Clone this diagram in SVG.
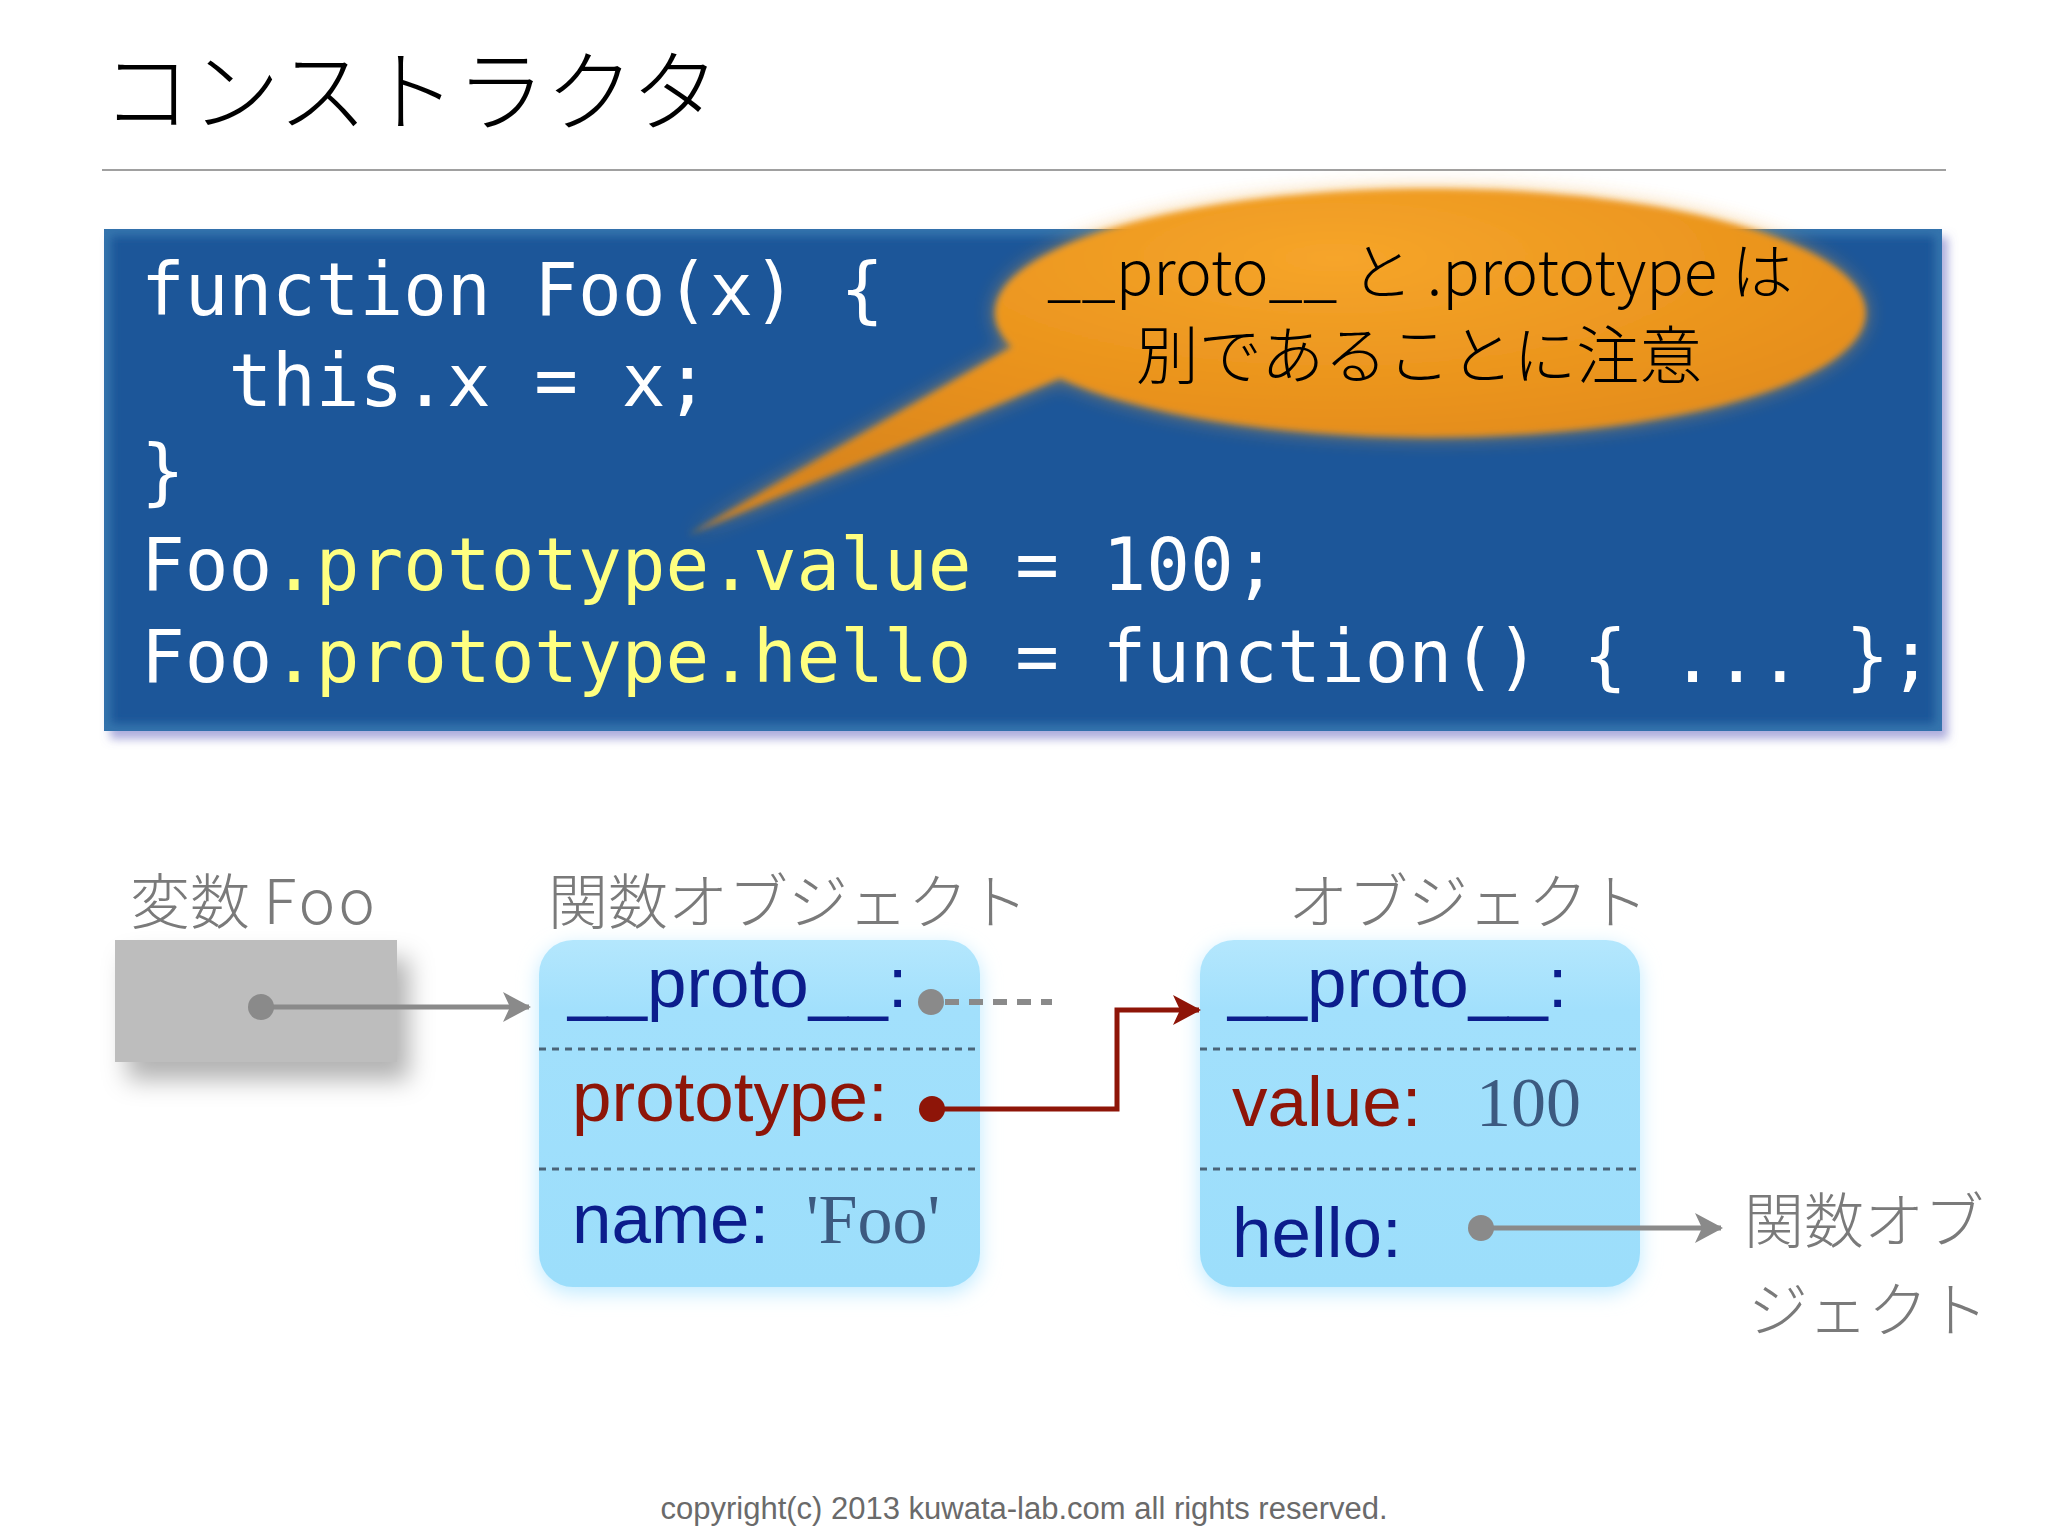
<svg xmlns="http://www.w3.org/2000/svg" width="2048" height="1536" viewBox="0 0 2048 1536">
<style>
.jp{font-family:"Noto Sans CJK JP","Noto Sans",sans-serif;font-weight:300}
.lbl{font-size:60px;fill:#7a7a7a}
.code{font-family:"DejaVu Sans Mono","Liberation Mono",monospace;font-size:72.6px;fill:#ffffff}
.y{fill:#ffff80}
.key{font-family:"Liberation Sans",Arial,sans-serif;font-size:71px}
.navy{fill:#0c1d8c}
.red{fill:#8e1508}
.val{font-family:"Liberation Serif","Times New Roman",serif;font-size:70px;fill:#3c5a80}
.sep{stroke:#4a6478;stroke-width:3;stroke-dasharray:7 6}
</style>
<defs>
<filter id="boxShadow" x="-10%" y="-10%" width="130%" height="140%">
<feDropShadow dx="6" dy="8" stdDeviation="5" flood-color="#6a6ac0" flood-opacity="0.55"/>
</filter>
<filter id="grayShadow" x="-20%" y="-20%" width="160%" height="180%">
<feDropShadow dx="12" dy="18" stdDeviation="12" flood-color="#000" flood-opacity="0.3"/>
</filter>
<filter id="glow" x="-20%" y="-20%" width="140%" height="140%">
<feGaussianBlur stdDeviation="10"/>
</filter>
<filter id="soft" x="-10%" y="-20%" width="120%" height="140%">
<feGaussianBlur stdDeviation="3"/>
</filter>
<filter id="edge" x="-5%" y="-5%" width="110%" height="110%">
<feGaussianBlur stdDeviation="5"/>
</filter>
<clipPath id="codeClip"><rect x="104" y="229" width="1838" height="502"/></clipPath>
<radialGradient id="bubbleGrad" cx="0.55" cy="0.2" r="0.75">
<stop offset="0" stop-color="#f6a52a"/>
<stop offset="0.6" stop-color="#e8911b"/>
<stop offset="1" stop-color="#d9851a"/>
</radialGradient>
<linearGradient id="objGrad" x1="0" y1="0" x2="0" y2="1">
<stop offset="0" stop-color="#b4e7fd"/>
<stop offset="0.2" stop-color="#a2e0fc"/>
<stop offset="1" stop-color="#9cdefb"/>
</linearGradient>
<marker id="arrGray" markerWidth="28" markerHeight="30" refX="26" refY="15" orient="auto" markerUnits="userSpaceOnUse" viewBox="0 0 28 30">
<path d="M0 0 L28 15 L0 30 L7 15 Z" fill="#8a8a8a"/>
</marker>
<marker id="arrRed" markerWidth="28" markerHeight="30" refX="26" refY="15" orient="auto" markerUnits="userSpaceOnUse" viewBox="0 0 28 30">
<path d="M0 0 L28 15 L0 30 L7 15 Z" fill="#8e1508"/>
</marker>
</defs>

<rect width="2048" height="1536" fill="#ffffff"/>

<g id="title">
<text class="jp" x="102" y="124" font-size="89" fill="#000">コンストラクタ</text>
<line x1="102" y1="170" x2="1946" y2="170" stroke="#a0a0a0" stroke-width="2"/>
</g>

<g id="code-block">
<rect x="104" y="229" width="1838" height="502" fill="#1a5799" filter="url(#boxShadow)"/>
<g clip-path="url(#codeClip)">
<rect x="104" y="229" width="1838" height="502" fill="none" stroke="#3675ad" stroke-width="14" filter="url(#edge)"/>
</g>
<text class="code" xml:space="preserve"><tspan x="141" y="315">function Foo(x) {</tspan><tspan x="141" y="406">  this.x = x;</tspan><tspan x="141" y="497">}</tspan><tspan x="141" y="590">Foo<tspan class="y">.prototype.value</tspan> = 100;</tspan><tspan x="141" y="682">Foo<tspan class="y">.prototype.hello</tspan> = function() { ... };</tspan></text>
</g>

<g id="callout">
<path d="M688 535 L1012 347 A435 124 0 1 1 1060 378 Z" fill="#f0a030" opacity="0.6" filter="url(#glow)"/>
<path d="M688 535 L1012 347 A435 124 0 1 1 1060 378 Z" fill="url(#bubbleGrad)" filter="url(#soft)"/>
<text class="jp" x="1420" y="295" font-size="62" fill="#000" text-anchor="middle">__proto__ と .prototype は</text>
<text class="jp" x="1419" y="378" font-size="63" fill="#000" text-anchor="middle">別であることに注意</text>
</g>

<g id="var-foo">
<text class="jp lbl" x="130" y="924">変数 <tspan font-size="62" letter-spacing="3">Foo</tspan></text>
<rect x="115" y="940" width="282" height="122" fill="#bdbdbd" filter="url(#grayShadow)"/>
</g>

<g id="func-object">
<text class="jp lbl" x="548" y="924">関数オブジェクト</text>
<rect x="539" y="946" width="441" height="347" rx="34" fill="#bfeaff" filter="url(#glow)"/>
<rect x="539" y="940" width="441" height="347" rx="34" fill="url(#objGrad)"/>
<line class="sep" x1="539" y1="1049" x2="980" y2="1049"/>
<line class="sep" x1="539" y1="1169" x2="980" y2="1169"/>
<text class="key navy" x="568" y="1007">__proto__:</text>
<text class="key red" x="572" y="1121">prototype:</text>
<text class="key navy" x="572" y="1243">name:</text>
<text class="val" x="806" y="1243">'Foo'</text>
</g>

<g id="object">
<text class="jp lbl" x="1288" y="924">オブジェクト</text>
<rect x="1200" y="946" width="440" height="347" rx="34" fill="#bfeaff" filter="url(#glow)"/>
<rect x="1200" y="940" width="440" height="347" rx="34" fill="url(#objGrad)"/>
<line class="sep" x1="1200" y1="1049" x2="1640" y2="1049"/>
<line class="sep" x1="1200" y1="1169" x2="1640" y2="1169"/>
<text class="key navy" x="1228" y="1007">__proto__:</text>
<text class="key red" x="1232" y="1126">value:</text>
<text class="val" x="1476" y="1126">100</text>
<text class="key navy" x="1232" y="1257">hello:</text>
</g>

<g id="hello-target">
<text class="jp lbl" x="1744" y="1243">関数オブ</text>
<text class="jp lbl" x="1748" y="1332">ジェクト</text>
</g>

<g id="connectors">
<line x1="261" y1="1007" x2="529" y2="1007" stroke="#8a8a8a" stroke-width="5" marker-end="url(#arrGray)"/>
<circle cx="261" cy="1007" r="13" fill="#8a8a8a"/>
<line x1="945" y1="1002" x2="1052" y2="1002" stroke="#8a8a8a" stroke-width="6" stroke-dasharray="14 10"/>
<circle cx="931" cy="1002" r="13" fill="#8a8a8a"/>
<polyline points="932,1109 1117,1109 1117,1010 1199,1010" fill="none" stroke="#8e1508" stroke-width="5" marker-end="url(#arrRed)"/>
<circle cx="932" cy="1109" r="13" fill="#8e1508"/>
<line x1="1481" y1="1228" x2="1721" y2="1228" stroke="#8a8a8a" stroke-width="5" marker-end="url(#arrGray)"/>
<circle cx="1481" cy="1228" r="13" fill="#8a8a8a"/>
</g>

<text id="copyright" x="1024" y="1519" font-family="Liberation Sans, Arial, sans-serif" font-size="31" fill="#6a6a6a" text-anchor="middle">copyright(c) 2013 kuwata-lab.com all rights reserved.</text>
</svg>
